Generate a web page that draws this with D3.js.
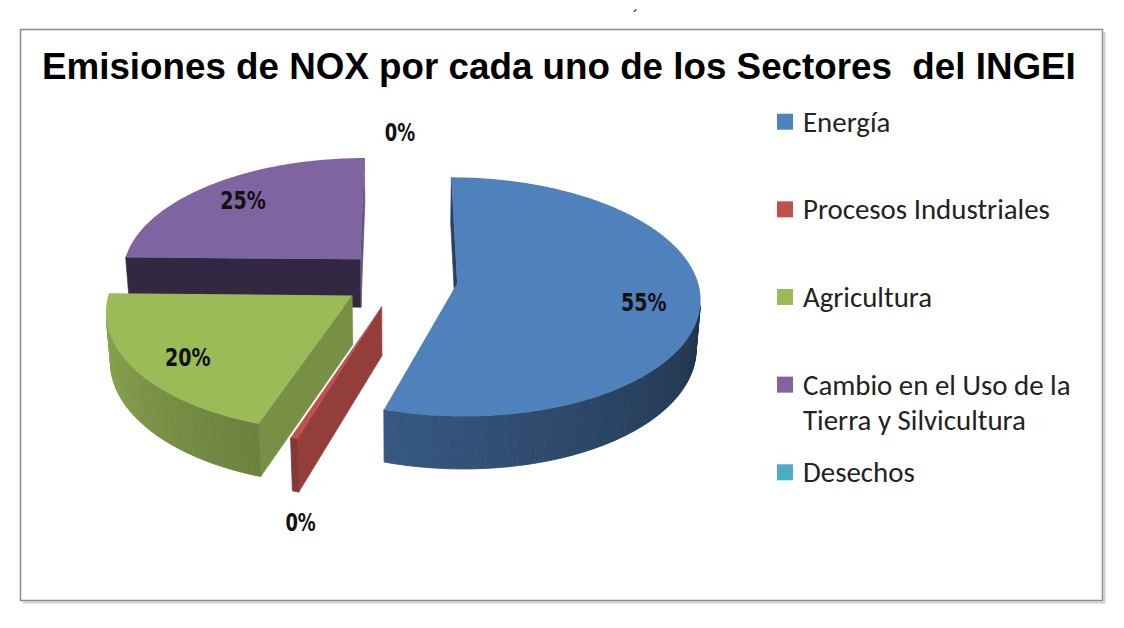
<!DOCTYPE html>
<html><head><meta charset="utf-8">
<script src="https://cdn.jsdelivr.net/npm/d3@7"></script>
<style>html,body{margin:0;padding:0;background:#fff;} svg{display:block}</style>
</head><body>
<svg id="chart" width="1124" height="628"></svg>
<script>
// ---- data ----
const categories = ["Energía", "Procesos Industriales", "Agricultura", "Cambio en el Uso de la Tierra y Silvicultura", "Desechos"];
const shares = [54.8, 0.4, 20.1, 24.7, 0.0];
const colors = ["#4F81BD", "#C0504D", "#9BBB59", "#8064A2", "#4BACC6"];
const title = "Emisiones de NOX por cada uno de los Sectores  del INGEI";

const svg = d3.select("#chart");

// ---- frame ----
svg.append("path").attr("d", "M1104.5,32 V602.5 H23").attr("fill", "none").attr("stroke", "#cfcfcf").attr("stroke-width", 2);
svg.append("rect").attr("x", 20.5).attr("y", 29.5).attr("width", 1082).attr("height", 571)
  .attr("fill", "#fff").attr("stroke", "#8c8c8c").attr("stroke-width", 1.5);
svg.append("text").attr("x", 633).attr("y", 22).attr("font-size", 16).attr("font-family", "Liberation Sans, sans-serif").text("´");

// ---- title ----
const titleT = svg.append("text").attr("x", 42).attr("y", 79)
  .attr("font-family", "'Liberation Sans Narrow', 'Liberation Sans', Arial, sans-serif").attr("font-weight", "bold")
  .attr("font-size", 40).style("white-space", "pre").attr("fill", "#000").text(title);
{
  const w = titleT.node().getComputedTextLength();
  if (w > 1034) titleT.attr("font-size", 40 * 1034 / w);
  else titleT.attr("textLength", 1034).attr("lengthAdjust", "spacingAndGlyphs");
}

// ---- 3D pie projection ----
const S = 240, SIN_A = 0.4875, COS_A = Math.sqrt(1 - SIN_A * SIN_A), K = 0.13, DEPTH = 0.235, EXPLODE = 0.24, CX = 400, CY = 279;
const cam = [0, -COS_A / K, SIN_A / K];
function proj(X, Y, h) { const w = 1 + K * (Y * COS_A - h * SIN_A); return [CX + S * X / w, CY - S * (Y * SIN_A + h * COS_A) / w]; }
const shade = (c, f) => { const r = d3.rgb(c); return d3.rgb(r.r * f, r.g * f, r.b * f).formatHex(); };
const outerFactor = d3.scaleLinear().domain([90, 270]).range([0.35, 0.91]).clamp(true);
const radialFactor = d3.scaleLinear().domain([0, 90, 120, 180, 270, 360]).range([0.55, 0.8, 0.75, 0.4, 0.5, 0.55]).clamp(true);

const pie = d3.pie().sort(null).value(d => d.v);
const arcs = pie(categories.map((c, i) => ({ c, v: shares[i], i })));
const line = d3.line();

const slices = arcs.filter(a => a.endAngle - a.startAngle > 1e-6).map(a => {
  const mid = (a.startAngle + a.endAngle) / 2;
  return Object.assign({}, a, { mid, ox: EXPLODE * Math.sin(mid), oy: EXPLODE * Math.cos(mid) });
}).sort((a, b) => b.oy - a.oy);

const pieG = svg.append("g");
const vis = (n, p) => n[0] * (cam[0] - p[0]) + n[1] * (cam[1] - p[1]) + n[2] * (cam[2] - p[2]) > 0;

slices.forEach(s => {
  const col = colors[s.data.i];
  const g = pieG.append("g");
  const rim = (t, h) => proj(s.ox + Math.sin(t), s.oy + Math.cos(t), h);
  const ctr = h => proj(s.ox, s.oy, h);
  // radial faces
  [[s.startAngle, -1], [s.endAngle, 1]].forEach(([t, sg]) => {
    const nAng = t + sg * Math.PI / 2;
    const n = [Math.sin(nAng), Math.cos(nAng), 0];
    const p = [s.ox + 0.5 * Math.sin(t), s.oy + 0.5 * Math.cos(t), -DEPTH / 2];
    if (!vis(n, p)) return;
    let deg = (nAng * 180 / Math.PI) % 360; if (deg < 0) deg += 360;
    const c = shade(col, radialFactor(deg));
    g.append("path").attr("d", line([ctr(0), rim(t, 0), rim(t, -DEPTH), ctr(-DEPTH)]) + "Z")
      .attr("fill", c).attr("stroke", c).attr("stroke-width", 0.6).attr("stroke-linejoin", "round");
  });
  // outer curved face
  const n = Math.max(2, Math.ceil((s.endAngle - s.startAngle) / (Math.PI / 180)));
  const span = s.endAngle - s.startAngle;
  for (let j = 0; j < n; j++) {
    const t0 = s.startAngle + span * j / n, t1 = s.startAngle + span * (j + 1) / n, tm = (t0 + t1) / 2;
    const nrm = [Math.sin(tm), Math.cos(tm), 0];
    const p = [s.ox + Math.sin(tm), s.oy + Math.cos(tm), -DEPTH / 2];
    if (!vis(nrm, p)) continue;
    const c = shade(col, outerFactor(tm * 180 / Math.PI));
    g.append("path").attr("d", line([rim(t0, 0), rim(t1, 0), rim(t1, -DEPTH), rim(t0, -DEPTH)]) + "Z")
      .attr("fill", c).attr("stroke", c).attr("stroke-width", 0.8);
  }
  // top face
  const pts = [ctr(0)];
  for (let j = 0; j <= n; j++) pts.push(rim(s.startAngle + span * j / n, 0));
  g.append("path").attr("d", line(pts) + "Z").attr("fill", col);
});

// ---- data labels ----
const lblG = svg.append("g");
arcs.forEach(a => {
  const mid = (a.startAngle + a.endAngle) / 2;
  const ox = EXPLODE * Math.sin(mid), oy = EXPLODE * Math.cos(mid);
  let x, y;
  if (a.data.v >= 1) {
    [x, y] = proj(ox + 0.77 * Math.sin(mid), oy + 0.77 * Math.cos(mid), 0);
    if (Math.cos(mid) < 0) y += 6;
  } else if (Math.cos(mid) >= 0) {
    [x, y] = proj(ox + Math.sin(mid), oy + Math.cos(mid), 0); y -= 19;
  } else {
    [x, y] = proj(ox + Math.sin(mid), oy + Math.cos(mid), -DEPTH); y += 31; x += 5;
  }
  const txt = Math.round(a.data.v) + "%";
  lblG.append("text").attr("x", x).attr("y", y)
    .attr("text-anchor", "middle").attr("dominant-baseline", "central")
    .attr("font-family", "'DejaVu Sans Condensed', 'DejaVu Sans', sans-serif").attr("font-weight", "bold")
    .attr("font-size", 24).attr("textLength", 15.2 * txt.length).attr("lengthAdjust", "spacingAndGlyphs")
    .attr("fill", "#111").text(txt);
});

// ---- legend ----
const legFont = "Carlito, Lato, 'Open Sans', sans-serif";
const probe = svg.append("text").attr("font-family", legFont).attr("font-size", 26).text("Procesos Industriales");
const legSize = 26 * 247 / probe.node().getComputedTextLength();
probe.remove();
const legY = d3.scalePoint().domain(categories).range([121.7, 472.3]);
const legG = svg.append("g");
categories.forEach((c, i) => {
  const cy = legY(c);
  legG.append("rect").attr("x", 777).attr("y", cy - 8).attr("width", 16).attr("height", 16).attr("fill", colors[i]);
  const t = legG.append("text").attr("x", 803).attr("y", cy + 10)
    .attr("font-family", legFont).attr("font-size", legSize).attr("fill", "#222");
  const words = c.split(" ");
  let lineWords = [];
  let ts = t.append("tspan").attr("x", 803).attr("dy", 0);
  words.forEach(w => {
    lineWords.push(w);
    ts.text(lineWords.join(" "));
    if (ts.node().getComputedTextLength() > 290 && lineWords.length > 1) {
      lineWords.pop();
      ts.text(lineWords.join(" "));
      lineWords = [w];
      ts = t.append("tspan").attr("x", 803).attr("dy", 35).text(w);
    }
  });
});
</script>
</body></html>
